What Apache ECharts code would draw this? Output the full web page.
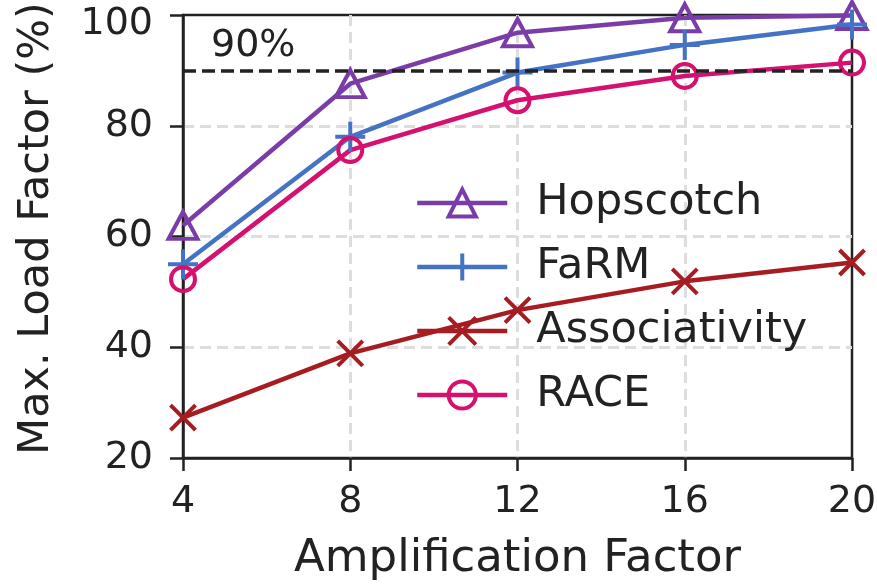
<!DOCTYPE html>
<html>
<head>
<meta charset="utf-8">
<script src="https://cdn.jsdelivr.net/npm/echarts@6/dist/echarts.min.js"></script>
<style>
  html, body { margin: 0; padding: 0; background: #fff; }
  #chart { width: 877px; height: 584px; }
</style>
</head>
<body>
<div id="chart"></div>
<script>
// amplification factor on x
const ampFactors = [4, 8, 12, 16, 20]

// max load factor (%) per scheme
const hopscotch = [62, 87.6, 96.8, 99.5, 99.9]
const farm = [55, 78, 89.6, 94.6, 98.3]
const associativity = [27.3, 38.9, 46.7, 51.9, 55.3]
const race = [52.3, 75.6, 84.6, 89, 91.4]

const seriesNames = ['Hopscotch', 'FaRM', 'Associativity', 'RACE']
const threshold = 90

const FONT = 'DejaVu Sans'
const INK = '#222'

const plusPath = 'path://M0,-1L0,1M-1,0L1,0'
const crossPath = 'path://M-1,-1L1,1M-1,1L1,-1'

const toPairs = (ys) => ampFactors.map((x, i) => [x, ys[i]])

const makeSeries = (name, ys, color, symbol, size, extra) => Object.assign({
  name: name,
  type: 'line',
  data: toPairs(ys),
  clip: false,
  symbol: symbol,
  symbolSize: size,
  showAllSymbol: true,
  lineStyle: { color: color, width: 4.5 },
  itemStyle: { color: 'rgba(255,255,255,0)', borderColor: color, borderWidth: 4 },
  emphasis: { disabled: true }
}, extra || {})

const chart = echarts.init(document.getElementById('chart'), null, { renderer: 'canvas' })

const option = {
  animation: false,
  backgroundColor: '#fff',
  grid: {
    left: 183,
    right: 25,
    top: 15,
    bottom: 126,
    outerBoundsMode: 'none',
    containLabel: false,
    show: true,
    borderColor: INK,
    borderWidth: 2.5,
    backgroundColor: 'transparent'
  },
  legend: {
    data: seriesNames,
    orient: 'vertical',
    left: 415,
    top: 181,
    padding: 0,
    itemWidth: 90,
    itemHeight: 34,
    itemGap: 20,
    lineStyle: { width: 4.5 },
    itemStyle: { borderWidth: 4 },
    textStyle: {
      fontFamily: FONT,
      fontSize: 43,
      lineHeight: 44,
      color: INK,
      padding: [0, 0, 0, 24]
    }
  },
  xAxis: {
    type: 'value',
    min: 4,
    max: 20,
    interval: 4,
    name: 'Amplification Factor',
    nameLocation: 'middle',
    nameGap: 79,
    nameTextStyle: { fontFamily: FONT, fontSize: 45, lineHeight: 45, color: INK },
    axisLine: { lineStyle: { color: INK, width: 2.5 } },
    axisTick: { length: 13, lineStyle: { color: INK, width: 2.5 } },
    axisLabel: { fontFamily: FONT, fontSize: 38, lineHeight: 38, color: INK, margin: 25 },
    splitLine: {
      show: true,
      showMinLine: false,
      showMaxLine: false,
      lineStyle: { color: '#dddddd', width: 3, type: [11, 6] }
    }
  },
  yAxis: {
    type: 'value',
    min: 20,
    max: 100,
    interval: 20,
    name: 'Max. Load Factor (%)',
    nameLocation: 'middle',
    nameGap: 125,
    nameTextStyle: { fontFamily: FONT, fontSize: 43, lineHeight: 43, color: INK, padding: [0, 0, 0, 16] },
    axisLine: { show: true, lineStyle: { color: INK, width: 2.5 } },
    axisTick: { show: true, length: 13, lineStyle: { color: INK, width: 2.5 } },
    axisLabel: {
      fontFamily: FONT,
      fontSize: 38,
      color: INK,
      margin: 30,
      formatter: (v) => v === 100 ? '{top|' + v + '}' : String(v),
      rich: {
        top: { fontFamily: FONT, fontSize: 38, color: INK, padding: [18, 0, 0, 0] }
      }
    },
    splitLine: {
      show: true,
      showMinLine: false,
      showMaxLine: false,
      lineStyle: { color: '#dddddd', width: 3, type: [11, 6] }
    }
  },
  series: [
    makeSeries('Hopscotch', hopscotch, '#7a3da8', 'triangle', [29, 27], {
      markLine: {
        silent: true,
        symbol: 'none',
        animation: false,
        lineStyle: { color: INK, width: 3.5, type: [13, 6] },
        label: {
          show: true,
          position: 'insideStartTop',
          formatter: threshold + '%',
          fontFamily: FONT,
          fontSize: 38,
          color: INK,
          distance: [28, 5]
        },
        data: [{ yAxis: threshold }]
      }
    }),
    makeSeries('FaRM', farm, '#4472c4', plusPath, 30),
    makeSeries('Associativity', associativity, '#a61c21', crossPath, 25),
    makeSeries('RACE', race, '#d6106e', 'circle', 24)
  ]
}

chart.setOption(option)
</script>
</body>
</html>
